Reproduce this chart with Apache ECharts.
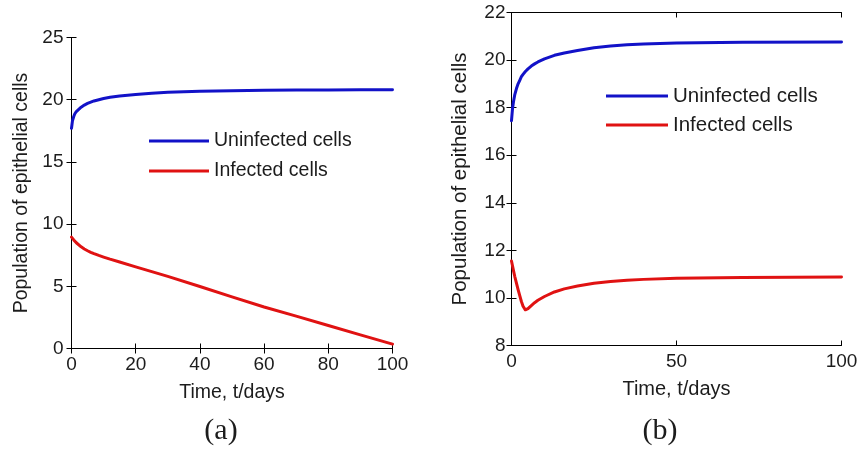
<!DOCTYPE html>
<html>
<head>
<meta charset="utf-8">
<script src="https://cdn.jsdelivr.net/npm/echarts@6/dist/echarts.min.js"></script>
<style>html,body{margin:0;padding:0;background:#fff;}#c{width:861px;height:450px;}</style>
</head>
<body>
<div id="c"></div>
<script>
// Panel (a)
var tA = [0, 0.3, 0.7, 1, 1.5, 2, 3, 4, 5, 6, 7, 8.5, 10, 12, 15, 20, 25, 30, 40, 50, 60, 70, 80, 90, 100];
var uninfA = [17.7, 18.3, 18.65, 18.85, 19.05, 19.2, 19.4, 19.57, 19.7, 19.8, 19.9, 20.0, 20.1, 20.2, 20.3, 20.42, 20.52, 20.6, 20.68, 20.72, 20.75, 20.77, 20.78, 20.79, 20.8];
var infA = [8.95, 8.85, 8.73, 8.65, 8.5, 8.38, 8.17, 8.0, 7.86, 7.73, 7.62, 7.48, 7.35, 7.18, 6.95, 6.56, 6.18, 5.8, 4.98, 4.15, 3.34, 2.6, 1.85, 1.1, 0.35];
// Panel (b)
var tB = [0, 0.3, 0.6, 1, 1.5, 2, 2.5, 3, 3.5, 4.2, 5, 6, 7, 8, 10, 13, 16, 20, 25, 30, 35, 40, 50, 70, 100];
var uninfB = [17.45, 17.95, 18.25, 18.55, 18.8, 19.0, 19.15, 19.3, 19.4, 19.52, 19.63, 19.75, 19.84, 19.92, 20.05, 20.2, 20.3, 20.4, 20.52, 20.59, 20.64, 20.68, 20.72, 20.75, 20.76];
var infB = [11.55, 11.35, 11.15, 10.9, 10.62, 10.35, 10.1, 9.85, 9.65, 9.5, 9.55, 9.68, 9.8, 9.9, 10.06, 10.25, 10.38, 10.5, 10.62, 10.69, 10.74, 10.78, 10.83, 10.86, 10.88];
// Axis / text
var seriesNames = ['Uninfected cells', 'Infected cells'];
var xName = 'Time, t/days';
var yName = 'Population of epithelial cells';
var captions = ['(a)', '(b)'];

function pairs(t, v) { return t.map(function (x, i) { return [x, v[i]]; }); }

var BLUE = '#1212c8', RED = '#e01212', INK = '#1c1c1c';
var font = 'Liberation Sans, Arial, Helvetica, sans-serif';

function mainX(grid, min, max, interval, fs) {
  return {
    type: 'value', gridIndex: grid, min: min, max: max, interval: interval, position: 'bottom',
    name: xName, nameLocation: 'middle', nameGap: 34,
    nameTextStyle: { color: INK, fontSize: fs, fontFamily: font },
    axisLine: { show: true, lineStyle: { color: '#000', width: 1 } },
    axisTick: { show: true, inside: true, length: 5, lineStyle: { color: '#000' } },
    axisLabel: { color: INK, fontSize: 19, fontFamily: font, margin: 7 },
    splitLine: { show: false }
  };
}
function boxX(grid, min, max, interval) {
  return {
    type: 'value', gridIndex: grid, min: min, max: max, interval: interval, position: 'top',
    axisLine: { show: true, lineStyle: { color: '#000', width: 1 } },
    axisTick: { show: true, inside: true, length: 5, lineStyle: { color: '#000' } },
    axisLabel: { show: false }, splitLine: { show: false }
  };
}
function mainY(grid, min, max, interval, gap, fs, margin) {
  return {
    type: 'value', gridIndex: grid, min: min, max: max, interval: interval, position: 'left',
    name: yName, nameLocation: 'middle', nameGap: gap, nameRotate: 90,
    nameTextStyle: { color: INK, fontSize: fs, fontFamily: font },
    axisLine: { show: true, lineStyle: { color: '#000', width: 1 } },
    axisTick: { show: true, inside: true, length: 5, lineStyle: { color: '#000' } },
    axisLabel: { color: INK, fontSize: 19, fontFamily: font, margin: margin },
    splitLine: { show: false }
  };
}
function boxY(grid, min, max, interval) {
  return {
    type: 'value', gridIndex: grid, min: min, max: max, interval: interval, position: 'right',
    axisLine: { show: true, lineStyle: { color: '#000', width: 1 } },
    axisTick: { show: true, inside: true, length: 5, lineStyle: { color: '#000' } },
    axisLabel: { show: false }, splitLine: { show: false }
  };
}
function line(name, data, color, xi, yi) {
  return {
    type: 'line', name: name, data: data, xAxisIndex: xi, yAxisIndex: yi,
    showSymbol: false, symbol: 'none', smooth: false,
    lineStyle: { color: color, width: 3, join: 'round', cap: 'round' }, itemStyle: { color: color }, z: 3
  };
}

var chart = echarts.init(document.getElementById('c'), null, { renderer: 'canvas' });
chart.setOption({
  animation: false,
  backgroundColor: '#fff',
  grid: [
    { left: 71.5, top: 37.5, width: 321, height: 311, containLabel: false },
    { left: 511.5, top: 12.5, width: 330, height: 333, containLabel: false }
  ],
  xAxis: [mainX(0, 0, 100, 20, 19.5), boxX(0, 0, 100, 20), mainX(1, 0, 100, 50, 20), boxX(1, 0, 100, 50)],
  yAxis: [mainY(0, 0, 25, 5, 40, 19.5, 8), boxY(0, 0, 25, 5), mainY(1, 8, 22, 2, 41, 20.5, 6), boxY(1, 8, 22, 2)],
  legend: [
    {
      orient: 'vertical', left: 144, top: 126, itemGap: 10, itemWidth: 60, itemHeight: 3, icon: 'rect',
      data: seriesNames, textStyle: { color: INK, fontSize: 19.5, fontFamily: font }, selectedMode: false
    },
    {
      orient: 'vertical', left: 601, top: 80.5, itemGap: 8, itemWidth: 62, itemHeight: 3, icon: 'rect',
      data: seriesNames, textStyle: { color: INK, fontSize: 20.5, fontFamily: font }, selectedMode: false
    }
  ],
  series: [
    line(seriesNames[0], pairs(tA, uninfA), BLUE, 0, 0),
    line(seriesNames[1], pairs(tA, infA), RED, 0, 0),
    line(seriesNames[0], pairs(tB, uninfB), BLUE, 2, 2),
    line(seriesNames[1], pairs(tB, infB), RED, 2, 2)
  ],
  graphic: [
    { type: 'text', x: 221, y: 431, style: { text: captions[0], font: '30px "Liberation Serif", serif', fill: INK, align: 'center', verticalAlign: 'middle' } },
    { type: 'text', x: 660, y: 431, style: { text: captions[1], font: '30px "Liberation Serif", serif', fill: INK, align: 'center', verticalAlign: 'middle' } }
  ]
});
</script>
</body>
</html>
